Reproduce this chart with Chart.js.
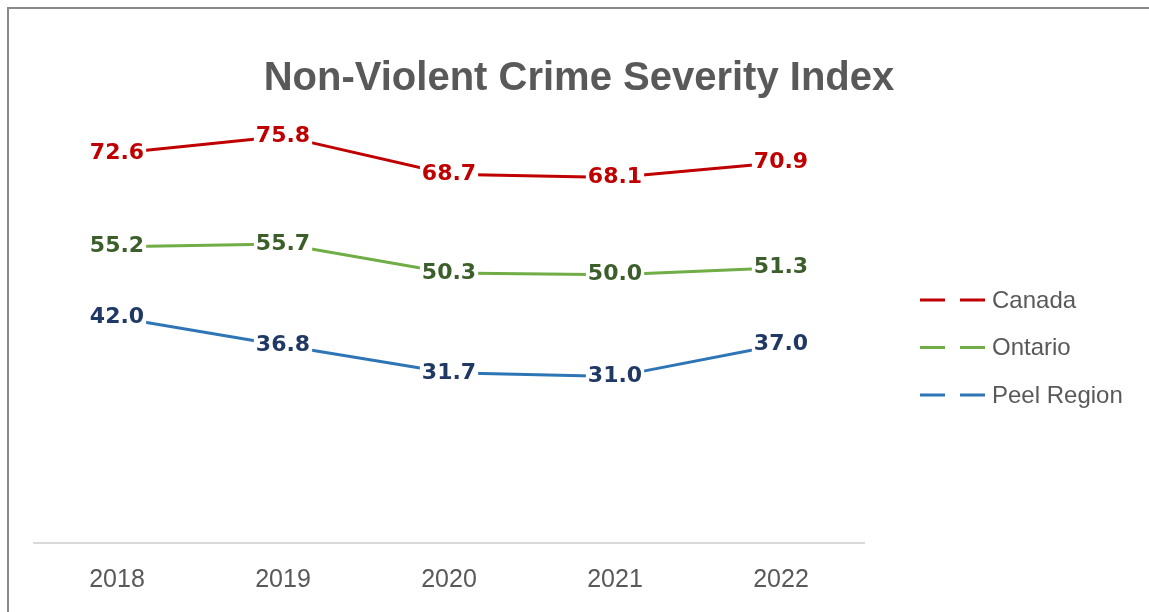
<!DOCTYPE html>
<html>
<head>
<meta charset="utf-8">
<script src="https://cdn.jsdelivr.net/npm/chart.js@4.4.1/dist/chart.umd.min.js"></script>
<style>
  html, body { margin: 0; padding: 0; background: #fff; }
  #wrap { position: relative; width: 1149px; height: 612px; overflow: hidden; }
  #frame { position: absolute; left: 7px; top: 7px; width: 1200px; height: 700px;
           border-left: 2px solid #8a8a8a; border-top: 2px solid #8a8a8a; }
  canvas { position: absolute; left: 0; top: 0; }
</style>
</head>
<body>
<div id="wrap">
  <div id="frame"></div>
  <canvas id="crime-line" width="1149" height="612"></canvas>
</div>
<script>
const chartTitle = 'Non-Violent Crime Severity Index';
const years = ['2018', '2019', '2020', '2021', '2022'];
const canada = [72.6, 75.8, 68.7, 68.1, 70.9];
const ontario = [55.2, 55.7, 50.3, 50.0, 51.3];
const peel = [42.0, 36.8, 31.7, 31.0, 37.0];

// value labels sit on the points, white box hides the line under them
const pointLabels = {
  id: 'pointLabels',
  afterDatasetsDraw(chart) {
    const ctx = chart.ctx;
    ctx.save();
    ctx.font = 'bold 22px "DejaVu Sans"';
    ctx.textAlign = 'center';
    ctx.textBaseline = 'middle';
    chart.data.datasets.forEach((ds, i) => {
      const meta = chart.getDatasetMeta(i);
      meta.data.forEach((pt, j) => {
        const txt = ds.data[j].toFixed(1);
        const w = ctx.measureText(txt).width + 4;
        ctx.fillStyle = '#fff';
        ctx.fillRect(pt.x - w / 2, pt.y - 12, w, 24);
        ctx.fillStyle = ds.labelColor;
        ctx.fillText(txt, pt.x, pt.y);
      });
    });
    ctx.restore();
  }
};

const titleLegend = {
  id: 'titleLegend',
  afterDraw(chart) {
    const ctx = chart.ctx;
    ctx.save();
    ctx.fillStyle = '#595959';
    ctx.font = 'bold 40px "Liberation Sans"';
    ctx.textAlign = 'center';
    ctx.textBaseline = 'middle';
    ctx.fillText(chartTitle, 579, 79);

    ctx.font = '24px "Liberation Sans"';
    ctx.textAlign = 'left';
    chart.data.datasets.forEach((ds, i) => {
      const y = 300 + i * 47.5;
      ctx.strokeStyle = ds.borderColor;
      ctx.lineWidth = 3;
      ctx.setLineDash([25, 15]);
      ctx.beginPath();
      ctx.moveTo(920, y);
      ctx.lineTo(985, y);
      ctx.stroke();
      ctx.fillStyle = '#595959';
      ctx.fillText(ds.label, 992, y + 1);
    });
    ctx.restore();
  }
};

const ctx1 = document.getElementById('crime-line');
const myChart = new Chart(ctx1, {
  type: 'line',
  data: {
    labels: years,
    datasets: [
      { label: 'Canada', data: canada, borderColor: '#C00000', labelColor: '#C00000' },
      { label: 'Ontario', data: ontario, borderColor: '#70AD47', labelColor: '#3B5E2B' },
      { label: 'Peel Region', data: peel, borderColor: '#2E75B6', labelColor: '#1F3864' }
    ]
  },
  options: {
    responsive: false,
    animation: false,
    events: [],
    layout: { padding: { left: 34, right: 285, top: 113.6, bottom: -5 } },
    elements: {
      line: { borderWidth: 3, tension: 0, fill: false },
      point: { radius: 0 }
    },
    scales: {
      x: {
        offset: true,
        grid: { display: false, drawTicks: false },
        border: { display: true, color: '#D9D9D9', width: 2 },
        ticks: { color: '#595959', font: { family: 'Liberation Sans', size: 25 }, padding: 22 }
      },
      y: { display: false, min: 0, max: 80 }
    },
    plugins: {
      legend: { display: false },
      title: { display: false },
      tooltip: { enabled: false }
    }
  },
  plugins: [pointLabels, titleLegend]
});
</script>
</body>
</html>
